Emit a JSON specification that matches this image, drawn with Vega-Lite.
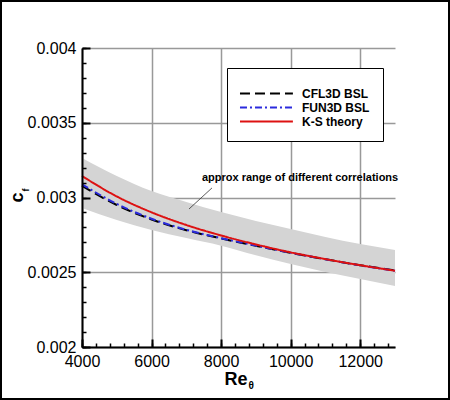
{
  "$schema": "https://vega.github.io/schema/vega-lite/v6.json",
  "width": 313,
  "height": 299,
  "autosize": {"type": "none"},
  "padding": {"left": 82, "top": 48, "right": 55, "bottom": 53},
  "background": "white",
  "datasets": {
    "band": [
      {"Re": 4000, "lo": 0.002930, "hi": 0.003264},
      {"Re": 5000, "lo": 0.002849, "hi": 0.003144},
      {"Re": 6000, "lo": 0.002783, "hi": 0.003043},
      {"Re": 7000, "lo": 0.002729, "hi": 0.002970},
      {"Re": 8000, "lo": 0.002678, "hi": 0.002903},
      {"Re": 9000, "lo": 0.002613, "hi": 0.002843},
      {"Re": 10000, "lo": 0.002555, "hi": 0.002789},
      {"Re": 11000, "lo": 0.002502, "hi": 0.002736},
      {"Re": 12000, "lo": 0.002455, "hi": 0.002689},
      {"Re": 13000, "lo": 0.002408, "hi": 0.002649}
    ],
    "curves": [
      {"Re": 4000, "series": "CFL3D BSL", "cf": 0.003078},
      {"Re": 5000, "series": "CFL3D BSL", "cf": 0.002950},
      {"Re": 6000, "series": "CFL3D BSL", "cf": 0.002853},
      {"Re": 7000, "series": "CFL3D BSL", "cf": 0.002781},
      {"Re": 8000, "series": "CFL3D BSL", "cf": 0.002726},
      {"Re": 9000, "series": "CFL3D BSL", "cf": 0.002677},
      {"Re": 10000, "series": "CFL3D BSL", "cf": 0.002630},
      {"Re": 11000, "series": "CFL3D BSL", "cf": 0.002587},
      {"Re": 12000, "series": "CFL3D BSL", "cf": 0.002547},
      {"Re": 13000, "series": "CFL3D BSL", "cf": 0.002512},
      {"Re": 4000, "series": "FUN3D BSL", "cf": 0.003088},
      {"Re": 5000, "series": "FUN3D BSL", "cf": 0.002957},
      {"Re": 6000, "series": "FUN3D BSL", "cf": 0.002858},
      {"Re": 7000, "series": "FUN3D BSL", "cf": 0.002784},
      {"Re": 8000, "series": "FUN3D BSL", "cf": 0.002728},
      {"Re": 9000, "series": "FUN3D BSL", "cf": 0.002678},
      {"Re": 10000, "series": "FUN3D BSL", "cf": 0.002630},
      {"Re": 11000, "series": "FUN3D BSL", "cf": 0.002587},
      {"Re": 12000, "series": "FUN3D BSL", "cf": 0.002546},
      {"Re": 13000, "series": "FUN3D BSL", "cf": 0.002510},
      {"Re": 4000, "series": "K-S theory", "cf": 0.003144},
      {"Re": 5000, "series": "K-S theory", "cf": 0.003007},
      {"Re": 6000, "series": "K-S theory", "cf": 0.002901},
      {"Re": 7000, "series": "K-S theory", "cf": 0.002816},
      {"Re": 8000, "series": "K-S theory", "cf": 0.002746},
      {"Re": 9000, "series": "K-S theory", "cf": 0.002686},
      {"Re": 10000, "series": "K-S theory", "cf": 0.002633},
      {"Re": 11000, "series": "K-S theory", "cf": 0.002588},
      {"Re": 12000, "series": "K-S theory", "cf": 0.002547},
      {"Re": 13000, "series": "K-S theory", "cf": 0.002510}
    ],
    "note": [
      {"Re": 7450, "cf": 0.00311, "label": "approx range of different correlations"}
    ],
    "leader": [
      {"Re": 7077, "cf": 0.002923},
      {"Re": 7738, "cf": 0.003064}
    ]
  },
  "layer": [
    {
      "data": {"name": "band"},
      "mark": {"type": "area", "color": "#d4d4d4", "interpolate": "monotone"},
      "encoding": {
        "x": {
          "field": "Re",
          "type": "quantitative",
          "scale": {"domain": [4000, 13000], "nice": false, "zero": false},
          "axis": {
            "orient": "bottom",
            "values": [4000, 6000, 8000, 10000, 12000],
            "format": "d",
            "grid": true,
            "gridColor": "#999999",
            "gridWidth": 1.5,
            "ticks": false,
            "domain": false,
            "labelFontSize": 16,
            "labelColor": "black",
            "labelPadding": 6,
            "labelFlush": false,
            "labelOverlap": false,
            "title": "Re",
            "titleFontSize": 18,
            "titleFontWeight": "bold",
            "titleColor": "black",
            "titleX": 153.5,
            "titleY": 37,
            "titleAlign": "center",
            "titleBaseline": "alphabetic",
            "zindex": 0
          }
        },
        "y": {
          "field": "hi",
          "type": "quantitative",
          "scale": {"domain": [0.002, 0.004], "nice": false, "zero": false},
          "axis": {
            "orient": "left",
            "values": [0.002, 0.0025, 0.003, 0.0035, 0.004],
            "format": "~g",
            "grid": true,
            "gridColor": "#999999",
            "gridWidth": 1.5,
            "ticks": false,
            "domain": false,
            "labelFontSize": 16,
            "labelColor": "black",
            "labelPadding": 6,
            "labelOverlap": false,
            "title": "c",
            "titleFontSize": 18,
            "titleFontWeight": "bold",
            "titleColor": "black",
            "titleAngle": 270,
            "titleX": -60,
            "titleY": 149,
            "titleAlign": "center",
            "titleBaseline": "alphabetic",
            "zindex": 0
          }
        },
        "y2": {"field": "lo"}
      }
    },
    {
      "data": {"name": "curves"},
      "mark": {"type": "line", "strokeWidth": 2, "interpolate": "monotone"},
      "encoding": {
        "x": {
          "field": "Re",
          "type": "quantitative",
          "scale": {"domain": [4000, 13000], "nice": false, "zero": false},
          "axis": {
            "orient": "bottom",
            "values": [4000, 4400, 4800, 5200, 5600, 6000, 6400, 6800, 7200, 7600, 8000, 8400, 8800, 9200, 9600, 10000, 10400, 10800, 11200, 11600, 12000, 12400, 12800],
            "grid": false,
            "labels": false,
            "domain": true,
            "domainColor": "black",
            "domainWidth": 2,
            "ticks": true,
            "tickSize": -4,
            "tickWidth": 1.5,
            "tickColor": "black",
            "title": "θ",
            "titleFontSize": 10,
            "titleFontWeight": "bold",
            "titleColor": "black",
            "titleX": 166,
            "titleY": 41,
            "titleAlign": "left",
            "titleBaseline": "alphabetic",
            "zindex": 1
          }
        },
        "y": {
          "field": "cf",
          "type": "quantitative",
          "scale": {"domain": [0.002, 0.004], "nice": false, "zero": false},
          "axis": {
            "orient": "left",
            "values": [0.002, 0.0021, 0.0022, 0.0023, 0.0024, 0.0025, 0.0026, 0.0027, 0.0028, 0.0029, 0.003, 0.0031, 0.0032, 0.0033, 0.0034, 0.0035, 0.0036, 0.0037, 0.0038, 0.0039, 0.004],
            "grid": false,
            "labels": false,
            "domain": true,
            "domainColor": "black",
            "domainWidth": 2,
            "ticks": true,
            "tickSize": -4,
            "tickWidth": 1.5,
            "tickColor": "black",
            "title": "f",
            "titleFontSize": 9,
            "titleFontWeight": "bold",
            "titleColor": "black",
            "titleAngle": 270,
            "titleX": -54,
            "titleY": 141.5,
            "titleAlign": "center",
            "titleBaseline": "alphabetic",
            "zindex": 1
          }
        },
        "color": {
          "field": "series",
          "type": "nominal",
          "scale": {
            "domain": ["CFL3D BSL", "FUN3D BSL", "K-S theory"],
            "range": ["#000000", "#2b2bdd", "#dd1111"]
          },
          "legend": {
            "orient": "none",
            "legendX": 145,
            "legendY": 20,
            "title": " ",
            "titleFontSize": 5,
            "titlePadding": 1,
            "padding": 13,
            "strokeColor": "black",
            "fillColor": "white",
            "symbolType": "M-1.23,0H8.77",
            "symbolSize": 112,
            "symbolStrokeWidth": 2,
            "labelFontSize": 12,
            "labelFontWeight": "bold",
            "labelColor": "black",
            "labelOffset": 49,
            "rowPadding": 1
          }
        },
        "strokeDash": {
          "field": "series",
          "type": "nominal",
          "scale": {
            "domain": ["CFL3D BSL", "FUN3D BSL", "K-S theory"],
            "range": [[10, 5], [7, 3, 2, 3], [1, 0]]
          }
        }
      }
    },
    {
      "data": {"name": "note"},
      "mark": {"type": "text", "align": "left", "baseline": "alphabetic", "fontSize": 11, "fontWeight": "bold", "fill": "black"},
      "encoding": {
        "x": {
          "field": "Re",
          "type": "quantitative",
          "scale": {"domain": [4000, 13000], "nice": false, "zero": false},
          "axis": {
            "orient": "bottom",
            "values": [4000, 6000, 8000, 10000, 12000],
            "grid": false,
            "labels": false,
            "domain": false,
            "ticks": true,
            "tickSize": -8,
            "tickWidth": 2,
            "tickColor": "black",
            "title": null,
            "zindex": 1
          }
        },
        "y": {
          "field": "cf",
          "type": "quantitative",
          "scale": {"domain": [0.002, 0.004], "nice": false, "zero": false},
          "axis": {
            "orient": "left",
            "values": [0.002, 0.0025, 0.003, 0.0035, 0.004],
            "grid": false,
            "labels": false,
            "domain": false,
            "ticks": true,
            "tickSize": -8,
            "tickWidth": 2,
            "tickColor": "black",
            "title": null,
            "zindex": 1
          }
        },
        "text": {"field": "label"},
        "stroke": {
          "field": "Re",
          "type": "quantitative",
          "scale": {"domain": [0, 1], "range": ["rgba(0,0,0,0)", "rgba(0,0,0,0)"]},
          "legend": {
            "orient": "none",
            "direction": "vertical",
            "legendX": -81,
            "legendY": -47,
            "padding": 0,
            "title": null,
            "gradientLength": 398,
            "gradientThickness": 448,
            "gradientStrokeColor": "black",
            "gradientStrokeWidth": 2,
            "labelExpr": "''",
            "labelFontSize": 1
          }
        }
      }
    },
    {
      "data": {"name": "leader"},
      "mark": {"type": "line", "color": "#333333", "strokeWidth": 0.8},
      "encoding": {
        "x": {"field": "Re", "type": "quantitative", "scale": {"domain": [4000, 13000], "nice": false, "zero": false}, "axis": null},
        "y": {"field": "cf", "type": "quantitative", "scale": {"domain": [0.002, 0.004], "nice": false, "zero": false}, "axis": null}
      }
    }
  ],
  "resolve": {"axis": {"x": "independent", "y": "independent"}},
  "config": {
    "font": "Liberation Sans",
    "view": {"stroke": null}
  }
}
